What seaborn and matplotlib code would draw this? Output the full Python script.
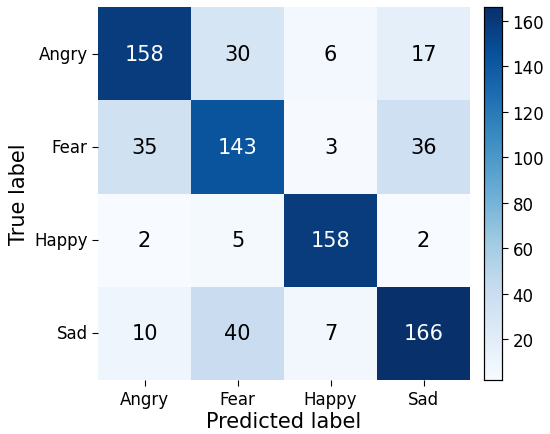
import numpy as np
import pandas as pd
import seaborn as sns
import matplotlib
matplotlib.use("Agg")
import matplotlib.pyplot as plt

labels = ["Angry", "Fear", "Happy", "Sad"]
row_angry = [158, 30, 6, 17]
row_fear = [35, 143, 3, 36]
row_happy = [2, 5, 158, 2]
row_sad = [10, 40, 7, 166]

cm = pd.DataFrame([row_angry, row_fear, row_happy, row_sad], index=labels, columns=labels)

W, H = 550, 435
fig = plt.figure(figsize=(5.5, 4.35), dpi=100)
ax = fig.add_axes([98/W, 1 - 381/H, 372/W, 373/H])
cax = fig.add_axes([484/W, 1 - 381/H, 18/W, 373/H])

sns.heatmap(cm, annot=True, fmt="d", cmap="Blues", ax=ax, cbar_ax=cax,
            annot_kws={"fontsize": 15}, linewidths=0)
for t in ax.texts:
    c = matplotlib.colors.to_rgb(t.get_color())
    if sum(c) < 1.5:
        t.set_color("black")
ax.set_xlabel("Predicted label", fontsize=15, labelpad=2)
ax.set_ylabel("True label", fontsize=15, labelpad=4)
ax.tick_params(axis="both", labelsize=12, length=4, width=0.8, left=True, bottom=True)
plt.setp(ax.get_yticklabels(), rotation=0)
plt.setp(ax.get_xticklabels(), rotation=0)
for s in ax.spines.values():
    s.set_visible(False)
cax.tick_params(labelsize=12, length=4, width=0.8)
cax.set_yticks([20, 40, 60, 80, 100, 120, 140, 160])
for s in cax.spines.values():
    s.set_visible(True)
    s.set_linewidth(0.8)

fig.savefig("out.png", dpi=100)
